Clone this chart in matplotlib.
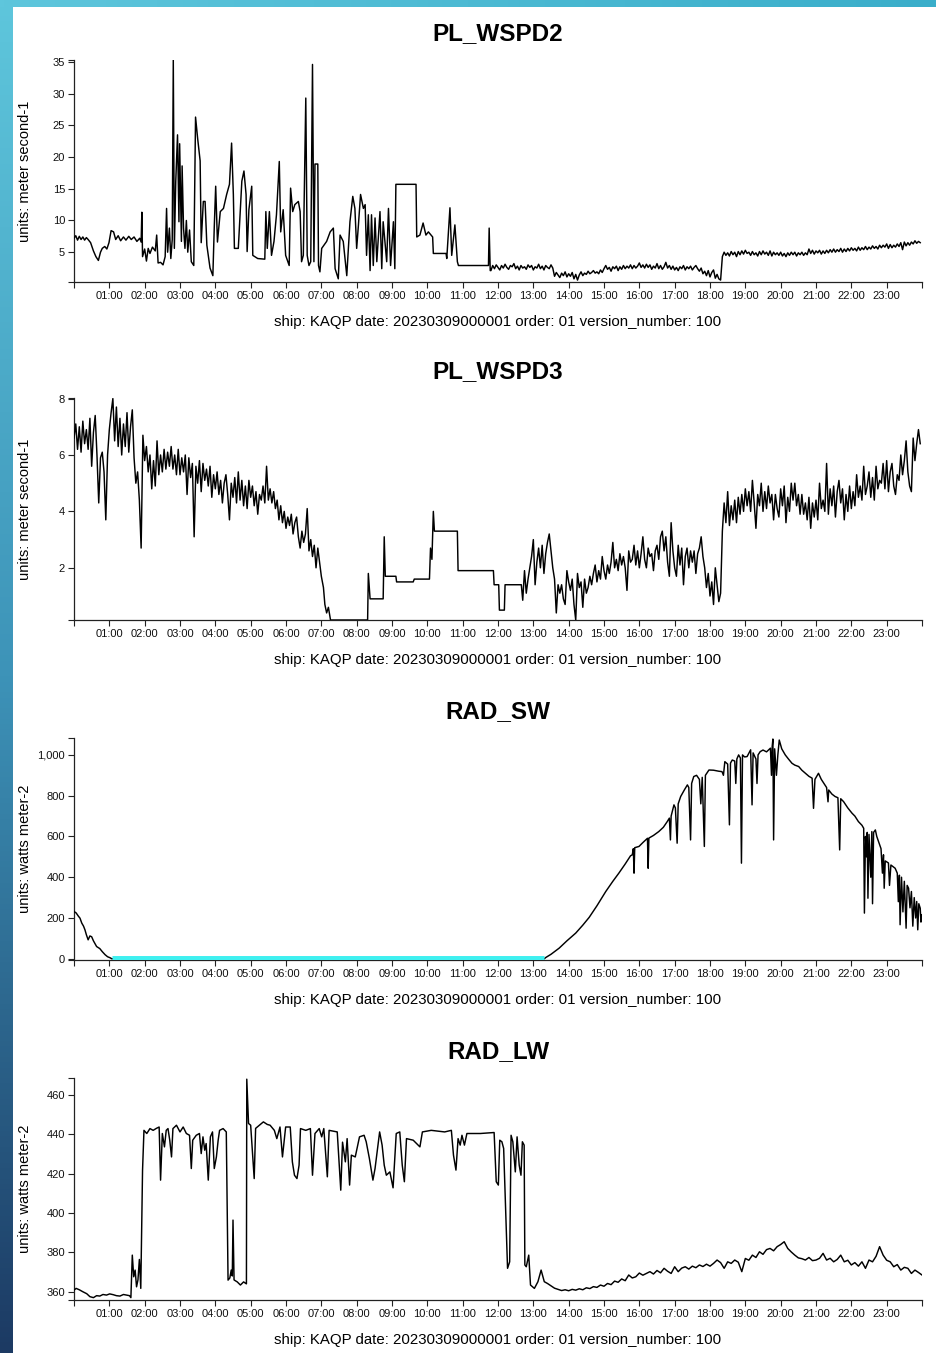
import numpy as np
import matplotlib
matplotlib.use('Agg')
import matplotlib.pyplot as plt
from matplotlib.colors import LinearSegmentedColormap

plt.rcParams['font.family'] = ['Liberation Sans', 'DejaVu Sans']

navio = "ship: KAQP date: 20230309000001 order: 01 version_number: 100"

# PL_WSPD2 (horas, m/s) - trecho irregular 0h-11.8h
wspd2_h = [0.00, 0.05, 0.10, 0.15, 0.20, 0.25, 0.30, 0.35, 0.40, 0.47, 0.55, 0.62, 0.69, 0.75, 0.80, 0.87, 0.93,
           0.99, 1.05, 1.12, 1.18, 1.25, 1.32, 1.40, 1.47, 1.55, 1.62, 1.70, 1.78, 1.86, 1.90, 1.92, 1.94, 2.00,
           2.05, 2.10, 2.15, 2.22, 2.30, 2.34, 2.38, 2.45, 2.52, 2.58, 2.62, 2.65, 2.70, 2.74, 2.78, 2.81, 2.84,
           2.88, 2.93, 2.97, 2.99, 3.04, 3.06, 3.10, 3.14, 3.18, 3.22, 3.27, 3.32, 3.39, 3.44, 3.50, 3.57, 3.60,
           3.66, 3.71, 3.76, 3.85, 3.93, 3.97, 4.01, 4.06, 4.14, 4.23, 4.32, 4.40, 4.46, 4.51, 4.54, 4.65, 4.75,
           4.81, 4.87, 4.90, 4.95, 5.03, 5.06, 5.20, 5.40, 5.43, 5.47, 5.53, 5.59, 5.66, 5.73, 5.81, 5.85, 5.92,
           5.99, 6.09, 6.13, 6.19, 6.25, 6.35, 6.40, 6.44, 6.49, 6.56, 6.60, 6.65, 6.70, 6.75, 6.79, 6.82, 6.90,
           6.92, 6.96, 7.01, 7.15, 7.25, 7.34, 7.39, 7.48, 7.53, 7.62, 7.72, 7.81, 7.89, 7.95, 8.00, 8.05, 8.11,
           8.19, 8.24, 8.28, 8.33, 8.38, 8.42, 8.47, 8.52, 8.57, 8.66, 8.71, 8.75, 8.85, 8.90, 8.96, 9.04, 9.08,
           9.11, 9.68, 9.70, 9.79, 9.88, 9.96, 10.03, 10.15, 10.17, 10.53, 10.55, 10.64, 10.69, 10.78, 10.85,
           10.88, 11.73, 11.75, 11.78]
wspd2_v = [7.2, 7.6, 6.9, 7.5, 7.0, 7.4, 6.9, 7.3, 7.0, 6.5, 5.2, 4.3, 3.7, 5.0, 5.6, 5.9, 5.5,
           6.5, 8.4, 8.2, 7.0, 7.6, 6.8, 7.4, 6.9, 7.5, 7.0, 7.4, 6.7, 7.2, 6.6, 11.3, 4.3, 5.5,
           3.6, 5.6, 4.8, 5.8, 5.2, 7.7, 3.3, 3.4, 3.0, 4.3, 11.9, 5.0, 8.8, 4.0, 7.0, 35.3, 5.6,
           16.2, 23.5, 9.8, 22.1, 6.7, 18.6, 8.8, 5.6, 10.0, 5.0, 8.5, 3.5, 2.9, 26.3, 22.9, 19.4, 6.5,
           13.0, 13.0, 6.1, 2.5, 1.3, 9.0, 15.4, 6.6, 11.4, 11.9, 14.1, 15.7, 22.2, 14.1, 5.6, 5.6, 16.2,
           17.8, 14.1, 5.1, 11.7, 15.4, 4.5, 4.0, 3.9, 11.4, 5.6, 11.4, 4.5, 6.7, 10.9, 19.3, 8.2, 11.7,
           4.5, 2.9, 15.1, 11.4, 12.5, 13.0, 11.4, 3.5, 4.5, 29.3, 4.5, 2.9, 3.5, 34.6, 3.5, 18.9, 18.9,
           2.9, 1.9, 5.6, 6.7, 8.2, 8.8, 2.4, 0.8, 7.7, 6.7, 1.3, 9.8, 13.8, 11.9, 5.6, 9.3, 14.1,
           11.9, 12.5, 4.5, 10.9, 2.1, 10.9, 2.9, 10.4, 3.5, 11.4, 2.4, 9.8, 3.5, 11.9, 2.9, 9.8, 2.4,
           15.7, 15.7, 7.4, 7.7, 9.6, 7.7, 8.2, 7.4, 4.8, 4.8, 4.0, 12.0, 4.5, 9.3, 3.5,
           2.9, 2.9, 8.8, 2.1]
# leituras a cada 0.05 h, de 11.80 h a 18.30 h
wspd2_b_ini = 11.80
wspd2_b = [2.1, 2.9, 2.4, 3.0, 2.6, 2.2, 2.9, 2.5, 3.1, 2.6,
           2.3, 2.9, 2.7, 3.2, 2.4, 2.8, 2.2, 2.9, 2.5, 2.7,
           2.3, 3.0, 2.6, 2.9, 2.2, 2.7, 2.5, 3.1, 2.4, 2.8,
           2.2, 2.9, 2.6, 2.4, 3.0, 2.5, 1.2, 1.8, 1.4, 1.0,
           1.7, 1.3, 1.9, 1.1, 1.6, 1.2, 1.8, 0.8, 1.5, 0.6,
           1.4, 1.9, 1.3, 1.7, 1.5, 2.0, 1.6, 1.8, 2.1, 1.7,
           1.9, 1.6, 2.2, 1.8, 2.4, 2.9, 2.3, 2.6, 2.0, 2.7,
           2.4, 2.8, 2.1, 2.7, 2.3, 2.9, 2.4, 2.8, 2.5, 3.0,
           2.4, 2.9, 2.5, 2.8, 3.3, 2.6, 3.0, 2.5, 3.1, 2.6,
           3.0, 2.3, 2.8, 2.5, 3.2, 2.4, 2.9, 2.3, 2.7, 3.4,
           2.5, 2.9, 2.3, 2.8, 2.2, 2.6, 2.1, 2.7, 2.4, 2.9,
           2.2, 2.7, 2.4, 2.8, 2.2, 2.6, 2.9, 2.4, 2.0, 2.5,
           1.6, 2.0, 1.3, 2.1, 1.1, 1.8, 2.2, 0.9, 1.5, 0.8,
           0.6]
# leituras a cada 0.05 h, de 18.35 h a 23.95 h
wspd2_c_ini = 18.35
wspd2_c = [4.3, 5.0, 4.5, 4.9, 4.4, 5.1, 4.6, 5.0, 4.3, 5.1,
           4.6, 5.2, 4.7, 5.3, 4.8, 5.0, 4.5, 5.1, 4.6, 4.9,
           4.4, 5.1, 4.6, 5.2, 4.7, 5.0, 4.5, 5.2, 4.4, 5.0,
           4.6, 4.9, 4.5, 5.0, 4.4, 4.8, 4.3, 4.9, 4.5, 5.0,
           4.6, 5.0, 4.4, 4.9, 4.6, 5.0, 4.5, 4.9, 4.6, 5.5,
           4.8, 5.3, 4.7, 5.2, 4.9, 5.3, 4.7, 5.2, 4.8, 5.3,
           4.9, 5.4, 5.0, 5.5, 5.0, 5.4, 5.1, 5.6, 5.0, 5.5,
           5.1, 5.6, 5.2, 5.7, 5.3, 5.6, 5.2, 5.8, 5.3, 5.7,
           5.4, 5.9, 5.4, 5.8, 5.5, 6.0, 5.6, 5.9, 5.5, 6.1,
           5.7, 6.1, 5.8, 6.3, 5.6, 6.2, 5.7, 6.1, 5.8, 6.3,
           5.9, 6.5, 5.4, 6.6, 6.0, 6.5, 6.1, 6.6, 6.3, 6.8,
           6.4, 6.7, 6.5]

# PL_WSPD3 (horas, m/s) - leituras a cada 0.05 h de 0 h a 7 h
wspd3_a = [6.6, 7.1, 6.2, 7.0, 6.1, 7.2, 6.4, 6.9, 6.2, 7.3,
           5.6, 6.8, 7.4, 6.0, 4.3, 5.9, 6.1, 5.4, 3.7, 6.0,
           6.9, 7.5, 8.0, 6.5, 7.7, 6.3, 7.3, 6.0, 7.1, 6.3,
           7.5, 6.1, 7.0, 7.6, 5.9, 5.0, 5.4, 4.4, 2.7, 6.7,
           5.8, 6.3, 5.4, 6.0, 4.8, 5.8, 4.9, 6.5, 5.3, 6.0,
           5.4, 6.2, 5.5, 6.1, 5.6, 6.3, 5.5, 6.0, 5.3, 6.2,
           5.3, 5.9, 5.4, 6.0, 4.6, 5.9, 5.2, 5.7, 3.1, 5.6,
           5.0, 5.8, 4.7, 5.7, 5.1, 5.5, 4.9, 5.6, 4.5, 5.3,
           4.8, 5.4, 4.6, 5.1, 4.3, 5.0, 5.3, 4.6, 3.7, 5.0,
           4.5, 5.2, 4.3, 5.4, 4.4, 5.1, 4.2, 4.9, 4.1, 5.1,
           4.5, 4.9, 4.2, 4.7, 3.9, 4.6, 4.4, 4.9, 4.3, 5.6,
           4.4, 4.8, 4.3, 4.7, 4.1, 4.4, 3.7, 4.2, 3.6, 4.0,
           3.4, 3.8, 3.5, 3.9, 3.2, 3.6, 3.8, 3.1, 2.7, 3.3,
           2.9, 3.2, 4.1, 2.6, 3.0, 2.4, 2.8, 2.0, 2.7, 2.2,
           1.7]
# trecho em degraus
wspd3_deg_h = [7.06, 7.10, 7.15, 7.20, 7.26, 8.31, 8.33, 8.38, 8.75, 8.78, 8.81, 9.11, 9.13, 9.60, 9.63,
               10.06, 10.09, 10.13, 10.17, 10.20, 10.85, 10.87, 11.87, 11.89, 12.02, 12.04, 12.18, 12.20, 12.66]
wspd3_deg_v = [1.3, 0.7, 0.4, 0.6, 0.15, 0.15, 1.8, 0.9, 0.9, 3.1, 1.7, 1.7, 1.5, 1.5, 1.6,
               1.6, 2.7, 2.3, 4.0, 3.3, 3.3, 1.9, 1.9, 1.4, 1.4, 0.5, 0.5, 1.4, 1.4]
# leituras a cada 0.05 h, de 12.70 h a 18.30 h
wspd3_b_ini = 12.70
wspd3_b = [0.85, 1.9, 1.1, 1.6, 2.0, 2.4, 3.0, 1.4, 2.2, 2.7,
           2.0, 2.8, 1.8, 2.5, 2.9, 3.2, 2.6, 2.0, 1.6, 0.4,
           1.4, 1.1, 1.4, 0.9, 0.7, 1.9, 1.5, 1.2, 1.6, 0.7,
           0.15, 1.8, 1.3, 1.5, 0.6, 1.6, 1.1, 1.3, 1.7, 1.4,
           1.8, 2.1, 1.5, 1.9, 1.6, 2.4, 1.9, 1.6, 2.1, 1.8,
           2.2, 2.9, 2.0, 2.3, 1.9, 2.5, 2.1, 2.4, 2.0, 1.2,
           2.6, 2.2, 2.3, 2.8, 2.1, 2.6, 2.0, 2.5, 3.1, 2.3,
           2.0, 2.7, 2.4, 2.5, 1.9, 2.6, 2.8, 2.3, 3.1, 3.3,
           2.6, 3.1, 2.2, 1.7, 3.6, 2.6, 2.0, 1.7, 2.8, 2.1,
           2.7, 1.4, 2.4, 2.7, 2.0, 2.6, 2.2, 2.6, 1.8, 2.5,
           2.7, 3.1, 2.4, 2.0, 1.3, 1.8, 1.0, 1.5, 0.7, 2.0,
           1.4, 0.8, 1.1]
# leituras a cada 0.05 h, de 18.35 h a 23.95 h
wspd3_c_ini = 18.35
wspd3_c = [3.3, 4.3, 3.6, 4.7, 3.5, 4.2, 3.7, 4.4, 3.6, 4.5,
           3.9, 4.6, 4.0, 4.8, 4.2, 4.7, 4.0, 5.1, 4.3, 3.4,
           4.6, 4.2, 5.0, 4.0, 4.7, 4.1, 4.9, 4.3, 4.6, 3.7,
           4.6, 4.1, 3.8, 4.8, 4.2, 4.9, 3.6, 4.5, 4.0, 5.0,
           4.4, 5.0, 4.2, 4.6, 3.9, 4.6, 3.9, 4.3, 3.7, 4.5,
           3.4, 4.3, 3.8, 4.4, 3.7, 5.0, 4.1, 4.4, 4.0, 5.7,
           3.9, 4.8, 4.2, 4.9, 3.8, 4.7, 5.1, 4.3, 4.8, 3.7,
           4.6, 4.0, 4.9, 4.1, 4.7, 4.2, 5.3, 4.5, 4.9, 4.4,
           5.6, 4.6, 4.9, 5.4, 4.5, 5.2, 4.4, 5.6, 4.8, 5.1,
           5.0, 5.7, 4.8, 5.8, 4.7, 5.4, 5.7, 4.9, 4.6, 5.3,
           5.1, 6.0, 5.3, 5.8, 6.5, 5.4, 4.9, 4.7, 6.6, 5.8,
           6.4, 6.9, 6.4]

# RAD_SW (horas, W/m2)
sw_h = [0.00, 0.06, 0.12, 0.17, 0.22, 0.27, 0.31, 0.35, 0.40, 0.45, 0.50, 0.55, 0.64, 0.73, 0.80, 0.88,
        0.95, 1.02, 1.07, 2.00, 4.00, 6.00, 8.00, 10.00, 12.00, 13.31, 13.35, 13.50, 13.73, 13.95, 14.20,
        14.40, 14.58, 14.80, 15.05, 15.25, 15.42, 15.60, 15.75, 15.80, 15.83, 15.85, 15.87, 15.99, 16.10,
        16.23, 16.25, 16.27, 16.40, 16.55, 16.68, 16.79, 16.85, 16.88, 16.90, 16.98, 17.02, 17.07, 17.10,
        17.17, 17.28, 17.36, 17.40, 17.45, 17.48, 17.54, 17.62, 17.70, 17.74, 17.78, 17.84, 17.87, 17.97,
        18.10, 18.25, 18.34, 18.38, 18.42, 18.50, 18.55, 18.58, 18.63, 18.70, 18.73, 18.76, 18.81, 18.86,
        18.89, 18.92, 18.98, 19.05, 19.15, 19.19, 19.22, 19.30, 19.33, 19.36, 19.42, 19.50, 19.60, 19.71,
        19.74, 19.76, 19.78, 19.80, 19.83, 19.88, 19.92, 19.96, 20.03, 20.13, 20.22, 20.32, 20.40, 20.51,
        20.60, 20.70, 20.80, 20.89, 20.93, 20.97, 21.07, 21.15, 21.30, 21.34, 21.36, 21.45, 21.54, 21.62,
        21.67, 21.70, 21.78, 21.90, 22.02, 22.10, 22.20, 22.30, 22.35, 22.37, 22.40, 22.43, 22.45, 22.47,
        22.50, 22.55, 22.58, 22.60, 22.63, 22.68, 22.72, 22.77, 22.84, 22.88, 22.91, 22.93, 22.96, 23.05,
        23.08, 23.12, 23.24, 23.30, 23.33, 23.36, 23.38, 23.42, 23.46, 23.50, 23.55, 23.58, 23.62, 23.66,
        23.70, 23.74, 23.78, 23.82, 23.85, 23.88, 23.91, 23.95, 23.97, 23.99]
sw_v = [232, 225, 210, 199, 175, 160, 142, 118, 93, 112, 108, 88, 60, 50, 35, 20,
        10, 5, 0, 0, 0, 0, 0, 0, 0, 0, 6, 22, 52, 88, 126,
        165, 203, 260, 330, 380, 420, 465, 505, 510, 540, 420, 545, 551, 570,
        591, 444, 592, 605, 624, 645, 673, 690, 583, 700, 755, 740, 567, 760,
        796, 830, 853, 840, 583, 860, 894, 900, 880, 760, 890, 551, 900, 926,
        925, 920, 918, 900, 967, 955, 657, 960, 975, 970, 860, 980, 1000, 985,
        469, 1000, 990, 992, 1025, 755, 1010, 980, 860, 1000, 1016, 1024, 1015, 1033,
        900, 1040, 1078, 583, 1030, 900, 1000, 1073, 1030, 1000, 980, 959, 950, 943,
        925, 910, 895, 886, 738, 880, 910, 880, 840, 770, 828, 808, 796, 790,
        534, 785, 771, 740, 714, 700, 673, 655, 640, 224, 600, 500, 620, 297,
        610, 400, 624, 270, 620, 632, 600, 575, 540, 420, 510, 346, 480, 470,
        360, 460, 444, 420, 280, 410, 167, 400, 230, 380, 150, 360, 346, 250,
        330, 160, 300, 200, 281, 142, 270, 248, 180, 216]

# RAD_LW (horas, W/m2) - ate 13.31 h
lw_h = [0.00, 0.06, 0.15, 0.25, 0.36, 0.45, 0.55, 0.64, 0.73, 0.82, 0.92, 1.01, 1.11, 1.20, 1.30, 1.40,
        1.49, 1.57, 1.61, 1.65, 1.69, 1.73, 1.77, 1.81, 1.85, 1.89, 1.94, 1.98, 2.06, 2.15, 2.24, 2.33,
        2.41, 2.45, 2.50, 2.56, 2.61, 2.66, 2.71, 2.76, 2.80, 2.90, 3.00, 3.09, 3.18, 3.27, 3.32, 3.36,
        3.46, 3.55, 3.60, 3.65, 3.70, 3.74, 3.80, 3.86, 3.92, 3.97, 4.03, 4.08, 4.12, 4.22, 4.31, 4.36,
        4.41, 4.45, 4.48, 4.50, 4.53, 4.62, 4.71, 4.80, 4.88, 4.89, 4.94, 5.00, 5.10, 5.14, 5.36, 5.47,
        5.55, 5.67, 5.74, 5.83, 5.90, 5.99, 6.12, 6.18, 6.24, 6.31, 6.37, 6.41, 6.56, 6.69, 6.75, 6.82,
        6.94, 7.01, 7.07, 7.17, 7.22, 7.45, 7.55, 7.60, 7.68, 7.73, 7.80, 7.85, 7.96, 8.08, 8.21, 8.27,
        8.36, 8.46, 8.52, 8.65, 8.72, 8.78, 8.84, 8.94, 9.03, 9.12, 9.22, 9.29, 9.35, 9.41, 9.60, 9.79,
        9.86, 10.11, 10.49, 10.68, 10.74, 10.81, 10.87, 10.93, 10.98, 11.05, 11.12, 11.50, 11.89, 11.95,
        12.01, 12.05, 12.11, 12.16, 12.27, 12.33, 12.37, 12.42, 12.49, 12.54, 12.60, 12.65, 12.69, 12.74,
        12.76, 12.80, 12.87, 12.92, 13.03, 13.13, 13.22, 13.31]
lw_v = [360.8, 361.7, 361.0, 360.0, 359.0, 357.5, 357.0, 358.0, 357.8, 358.6, 358.3, 358.9, 358.5, 358.0, 357.8, 358.6,
        358.3, 358.0, 357.0, 378.6, 367.6, 371.0, 362.5, 366.0, 376.4, 361.7, 421.8, 442.0, 440.4, 442.9, 442.0, 443.0,
        443.7, 416.7, 440.4, 433.6, 442.0, 442.9, 437.0, 428.5, 442.9, 444.6, 441.2, 443.7, 440.4, 439.5, 422.6, 437.0,
        439.5, 440.4, 430.2, 438.7, 431.9, 435.3, 416.7, 438.7, 441.2, 422.6, 428.5, 437.0, 442.0, 442.9, 441.2, 365.9,
        367.0, 371.0, 368.0, 396.4, 366.0, 365.0, 363.4, 365.0, 364.0, 468.0, 445.5, 444.6, 417.5, 443.0, 446.3, 445.0,
        444.6, 442.0, 437.8, 443.7, 428.5, 443.7, 443.7, 426.0, 419.2, 417.5, 424.3, 442.9, 442.0, 442.9, 419.2, 440.4,
        442.9, 438.7, 442.9, 418.4, 442.0, 441.2, 411.6, 436.0, 426.0, 437.8, 414.2, 429.4, 428.5, 438.7, 439.5, 436.2,
        427.7, 416.7, 422.6, 441.2, 434.5, 424.3, 419.2, 420.9, 412.8, 440.4, 441.2, 424.3, 415.9, 437.8, 437.0, 433.6,
        441.2, 442.0, 441.2, 442.0, 429.4, 421.8, 437.8, 434.5, 439.5, 434.5, 440.4, 440.4, 440.9, 415.9,
        414.2, 437.0, 436.2, 432.8, 371.9, 375.2, 439.5, 436.2, 420.9, 438.7, 424.3, 419.2, 436.2, 434.5,
        373.6, 372.7, 378.6, 363.4, 361.7, 365.1, 371.0, 365.1]
# leituras a cada 0.1 h, de 13.4 h a 23.9 h
lw_b_ini = 13.4
lw_b = [364.2, 363.0, 361.8, 361.2, 360.6, 361.0, 360.5, 361.2, 360.8, 361.5,
        361.0, 362.0, 361.6, 362.6, 362.2, 363.4, 362.8, 364.2, 363.6, 365.4,
        364.8, 366.5, 365.6, 368.5, 367.0, 367.6, 369.5, 368.4, 369.3, 370.2,
        369.0, 370.8, 369.6, 371.9, 370.4, 369.3, 372.7, 370.2, 372.0, 372.7,
        371.5, 373.0, 372.2, 373.6, 372.8, 374.0, 373.0, 374.4, 376.1, 374.8,
        371.9, 375.2, 374.4, 376.1, 375.0, 370.2, 376.9, 376.0, 378.6, 377.4,
        380.3, 379.0, 381.4, 382.0, 380.8, 382.9, 384.0, 385.4, 382.0, 380.2,
        378.6, 377.2, 376.8, 376.1, 377.4, 375.8, 376.1, 377.0, 379.5, 376.1,
        377.0, 375.2, 376.4, 378.6, 375.2, 376.0, 373.6, 374.8, 373.0, 375.2,
        371.9, 376.1, 375.2, 378.0, 382.9, 378.6, 376.0, 375.2, 372.7, 373.8,
        371.0, 372.4, 371.9, 369.3, 371.0, 369.8, 368.5]


def serie(partes):
    # junta trechos: (horas, valores) ou (inicio, passo, valores)
    hs, vs = [], []
    for p in partes:
        if len(p) == 2:
            hs.append(np.asarray(p[0], float))
            vs.append(np.asarray(p[1], float))
        else:
            ini, passo, v = p
            hs.append(ini + passo * np.arange(len(v)))
            vs.append(np.asarray(v, float))
    return np.concatenate(hs), np.concatenate(vs)


W, H = 936, 1353
fig = plt.figure(figsize=(W / 100, H / 100), dpi=100)
fig.patch.set_facecolor('white')

# moldura azul (esquerda e topo)
grad = np.linspace(0, 1, 256).reshape(-1, 1)
ax_l = fig.add_axes([0, 0, 13 / W, 1])
ax_l.imshow(grad, aspect='auto', cmap=LinearSegmentedColormap.from_list('esq', ['#5ec6dc', '#3d93b8', '#1c3a63']))
ax_l.axis('off')
ax_t = fig.add_axes([0, 1 - 7 / H, 1, 7 / H])
ax_t.imshow(grad.T, aspect='auto', cmap=LinearSegmentedColormap.from_list('topo', ['#5ec6dc', '#3aaeca']))
ax_t.axis('off')


def painel(top_px, horas, vals, titulo, unidade, ylim, yticks, virgula=False, zero_flag=False):
    ax = fig.add_axes([74 / W, 1 - (top_px + 222) / H, 848 / W, 222 / H])
    ax.plot(horas, vals, color='black', lw=1.05, zorder=3)
    if zero_flag:
        m = vals == 0
        ax.plot(horas[m], vals[m], color='#3ef0f0', lw=5, solid_capstyle='butt', zorder=4)
    ax.set_xlim(0, 24)
    ax.set_ylim(*ylim)

    xt = list(range(0, 25))
    ax.set_xticks(xt)
    ax.set_xticklabels(['' if (t == 0 or t == 24) else f'{t:02d}:00' for t in xt])
    yt = [ylim[0]] + list(yticks) + [ylim[1]]
    ax.set_yticks(yt)
    if virgula:
        lab = [f'{t:,.0f}' for t in yticks]
    else:
        lab = [f'{t:g}' for t in yticks]
    ax.set_yticklabels([''] + lab + [''])

    for s in ['top', 'right']:
        ax.spines[s].set_visible(False)
    for s in ['left', 'bottom']:
        ax.spines[s].set_linewidth(0.9)
        ax.spines[s].set_color('#222222')
    ax.tick_params(direction='out', length=4.5, width=0.8, color='#222222',
                   labelsize=8, pad=2, labelcolor='#111111')

    ax.text(0.5, 1 + 26 / 222, titulo, transform=ax.transAxes, ha='center', va='center',
            fontsize=17.5, fontweight='bold')
    ax.text(0.5, -40 / 222, navio, transform=ax.transAxes, ha='center', va='center', fontsize=10.8)
    ax.text(-49 / 848, 0.5, unidade, transform=ax.transAxes, ha='center', va='center',
            rotation=90, fontsize=10.5)
    return ax


h1, v1 = serie([(wspd2_h, wspd2_v), (wspd2_b_ini, 0.05, wspd2_b), (wspd2_c_ini, 0.05, wspd2_c)])
h2, v2 = serie([(0.0, 0.05, wspd3_a), (wspd3_deg_h, wspd3_deg_v), (wspd3_b_ini, 0.05, wspd3_b),
                (wspd3_c_ini, 0.05, wspd3_c)])
h3, v3 = serie([(sw_h, sw_v)])
h4, v4 = serie([(lw_h, lw_v), (lw_b_ini, 0.1, lw_b)])

painel(60, h1, v1, 'PL_WSPD2', 'units: meter second-1', (0.3, 35.3), [5, 10, 15, 20, 25, 30, 35])
painel(398, h2, v2, 'PL_WSPD3', 'units: meter second-1', (0.15, 8.02), [2, 4, 6, 8])
painel(738, h3, v3, 'RAD_SW', 'units: watts meter-2', (-6, 1083), [0, 200, 400, 600, 800, 1000],
       virgula=True, zero_flag=True)
painel(1078, h4, v4, 'RAD_LW', 'units: watts meter-2', (355.8, 468.6), [360, 380, 400, 420, 440, 460])

fig.savefig('out.png', dpi=100)
